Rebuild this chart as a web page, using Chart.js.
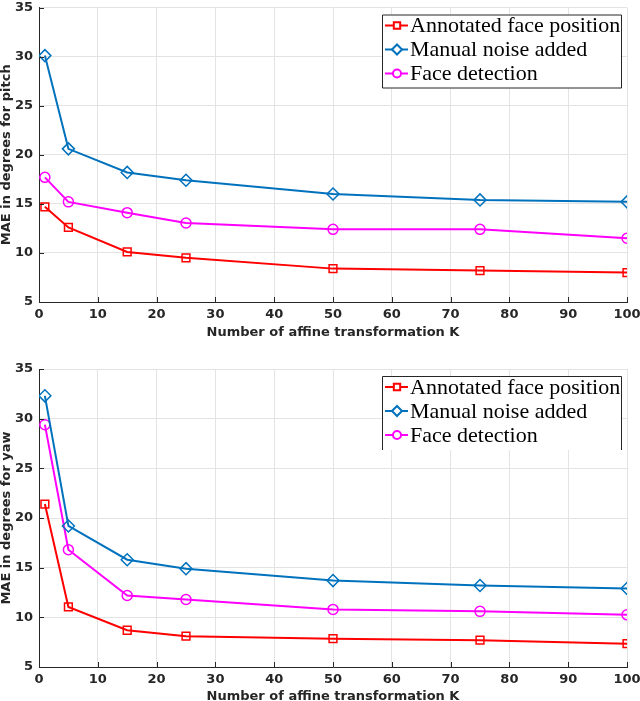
<!DOCTYPE html>
<html>
<head>
<meta charset="utf-8">
<script src="https://cdn.jsdelivr.net/npm/chart.js@4/dist/chart.umd.min.js"></script>
<style>
  body { margin: 0; background: #fff; }
  canvas { display: block; }
</style>
</head>
<body>
<canvas id="pitchChart" width="640" height="340"></canvas>
<canvas id="yawChart" width="640" height="361"></canvas>
<script>
// number of affine transformations K (x values)
var kValues = [1, 5, 15, 25, 50, 75, 100];

// MAE for pitch
var pitchAnnotated = [14.7, 12.6, 10.1, 9.5, 8.4, 8.2, 8.0];
var pitchNoise = [30.1, 20.6, 18.2, 17.4, 16.0, 15.4, 15.2];
var pitchDetection = [17.7, 15.2, 14.1, 13.05, 12.4, 12.4, 11.5];

// MAE for yaw
var yawAnnotated = [21.4, 11.05, 8.7, 8.1, 7.85, 7.7, 7.35];
var yawNoise = [32.3, 19.2, 15.8, 14.9, 13.7, 13.2, 12.9];
var yawDetection = [29.4, 16.8, 12.2, 11.8, 10.8, 10.6, 10.25];

var seriesLabels = ['Annotated face position', 'Manual noise added', 'Face detection'];
var seriesColors = ['#ff0000', '#0072bd', '#ff00ff'];
var seriesMarkers = ['rect', 'rectRot', 'circle'];
var markerSizes = [5.5, 6, 5];

var xTitle = 'Number of affine transformation K';
var axisInk = '#262626';
var gridInk = '#e3e3e3';

function toPoints(ys) {
  return kValues.map(function (k, i) { return { x: k, y: ys[i] }; });
}

// small inward tick marks on the left and bottom axes, like MATLAB
var insideTicks = {
  id: 'insideTicks',
  afterDraw: function (chart) {
    var ctx = chart.ctx, a = chart.chartArea;
    var xs = chart.scales.x, ys = chart.scales.y;
    ctx.save();
    ctx.strokeStyle = axisInk;
    ctx.lineWidth = 1;
    ctx.beginPath();
    xs.ticks.forEach(function (t) {
      var px = Math.round(xs.getPixelForValue(t.value)) + 0.5;
      ctx.moveTo(px, a.bottom);
      ctx.lineTo(px, a.bottom - 5);
    });
    ys.ticks.forEach(function (t) {
      var py = Math.round(ys.getPixelForValue(t.value)) + 0.5;
      ctx.moveTo(a.left, py);
      ctx.lineTo(a.left + 5, py);
    });
    ctx.stroke();
    ctx.restore();
  }
};

// boxed legend inside the top right corner of the plot
var boxLegend = {
  id: 'boxLegend',
  afterDatasetsDraw: function (chart, args, opts) {
    var ctx = chart.ctx, a = chart.chartArea;
    var w = 240, rowH = 24, h = 74;
    var x0 = a.right - 5 - w, y0 = a.top + 7;
    ctx.save();
    ctx.fillStyle = '#fff';
    ctx.fillRect(x0, y0, w, h);
    ctx.strokeStyle = axisInk;
    ctx.lineWidth = 1;
    ctx.beginPath();
    if (opts.openBottom) {
      ctx.moveTo(x0 + 0.5, y0 + h);
      ctx.lineTo(x0 + 0.5, y0 + 0.5);
      ctx.lineTo(x0 + w - 0.5, y0 + 0.5);
      ctx.lineTo(x0 + w - 0.5, y0 + h);
    } else {
      ctx.rect(x0 + 0.5, y0 + 0.5, w - 1, h - 1);
    }
    ctx.stroke();
    ctx.font = '22px "Liberation Serif", "DejaVu Serif", serif';
    ctx.textBaseline = 'middle';
    chart.data.datasets.forEach(function (ds, i) {
      var cy = y0 + 11 + i * rowH;
      ctx.strokeStyle = ds.borderColor;
      ctx.lineWidth = 2;
      ctx.beginPath();
      ctx.moveTo(x0 + 3, cy);
      ctx.lineTo(x0 + 26, cy);
      ctx.stroke();
      ctx.fillStyle = '#fff';
      Chart.helpers.drawPoint(ctx, { pointStyle: ds.pointStyle, radius: ds.pointRadius - 1, rotation: 0, borderWidth: 1.5 }, x0 + 15, cy);
      ctx.fillStyle = '#000';
      ctx.fillText(ds.label, x0 + 28, cy + 1);
    });
    ctx.restore();
  }
};

function makeChart(id, series, yTitle, padTop, xHeight, titlePadBottom, openBottom) {
  var boldFont = { family: 'DejaVu Sans', weight: 'bold', size: 13 };
  var titleFont = { family: 'DejaVu Sans', weight: 'bold', size: 13, lineHeight: 1 };
  return new Chart(document.getElementById(id).getContext('2d'), {
    type: 'line',
    data: {
      datasets: series.map(function (ys, i) {
        return {
          label: seriesLabels[i],
          data: toPoints(ys),
          borderColor: seriesColors[i],
          backgroundColor: 'rgba(0,0,0,0)',
          borderWidth: 2,
          pointStyle: seriesMarkers[i],
          pointRadius: markerSizes[i],
          pointBorderWidth: 1.5,
          pointBackgroundColor: 'rgba(0,0,0,0)',
          tension: 0
        };
      })
    },
    options: {
      responsive: false,
      animation: false,
      layout: { padding: { top: padTop, right: 13, left: 0, bottom: 0 } },
      plugins: {
        legend: { display: false },
        tooltip: { enabled: false },
        boxLegend: { openBottom: openBottom }
      },
      scales: {
        x: {
          type: 'linear',
          min: 0,
          max: 100,
          ticks: { stepSize: 10, padding: 5, font: boldFont, color: axisInk, maxRotation: 0, autoSkip: false },
          grid: { color: gridInk, drawTicks: false },
          border: { color: axisInk, width: 1 },
          title: { display: true, text: xTitle, font: titleFont, color: axisInk, padding: { top: 0, bottom: titlePadBottom } },
          afterFit: function (s) {
            s.height = xHeight;
            s.paddingLeft = 0;
            s.paddingRight = 0;
          }
        },
        y: {
          min: 5,
          max: 35,
          ticks: { stepSize: 5, padding: 6, font: boldFont, color: axisInk },
          grid: { color: gridInk, drawTicks: false },
          border: { color: axisInk, width: 1 },
          title: { display: true, text: yTitle, font: titleFont, color: axisInk, padding: 0 },
          afterFit: function (s) {
            s.width = 39;
            s.paddingTop = 0;
            s.paddingBottom = 0;
          }
        }
      }
    },
    plugins: [insideTicks, boxLegend]
  });
}

makeChart('pitchChart', [pitchAnnotated, pitchNoise, pitchDetection], 'MAE in degrees for pitch', 5, 38, 0.5, false);
makeChart('yawChart', [yawAnnotated, yawNoise, yawDetection], 'MAE in degrees for yaw', 29, 34, -2, true);
</script>
</body>
</html>
